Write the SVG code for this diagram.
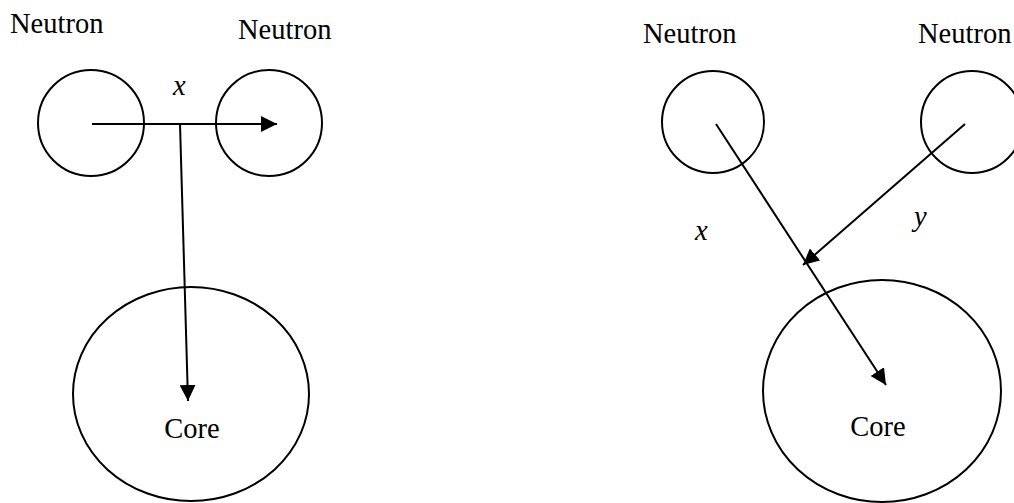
<svg xmlns="http://www.w3.org/2000/svg" width="1014" height="503" viewBox="0 0 1014 503">
<style>
.c{fill:none;stroke:#000;stroke-width:2}
.t{font-family:"Liberation Serif","Times New Roman",serif;font-size:28.5px;fill:#000}
.i{font-style:italic}
.e{fill:none;stroke:#000;stroke-width:2}
</style>
<defs>
<marker id="a" markerUnits="userSpaceOnUse" markerWidth="18" markerHeight="16" refX="16" refY="8" orient="auto">
<path d="M0,0 L16,8 L0,16 Z" fill="#000"/>
</marker>
</defs>
<rect width="1014" height="503" fill="#fff"/>
<g id="n1"><circle class="c" cx="91" cy="123" r="53"/><text class="t" x="10" y="33">Neutron</text></g>
<g id="n2"><circle class="c" cx="269" cy="123" r="53"/><text class="t" x="238" y="39">Neutron</text></g>
<g id="core1"><ellipse class="c" cx="191" cy="394" rx="118" ry="107"/><text class="t" x="192" y="438" text-anchor="middle">Core</text></g>
<g id="n3"><circle class="c" cx="713" cy="122" r="51"/><text class="t" x="643" y="43">Neutron</text></g>
<g id="n4"><circle class="c" cx="972" cy="122" r="51"/><text class="t" x="918" y="43">Neutron</text></g>
<g id="core2"><ellipse class="c" cx="882" cy="391" rx="119" ry="111"/><text class="t" x="878" y="436" text-anchor="middle">Core</text></g>
<g id="labels">
<text class="t i" x="173" y="95">x</text>
<text class="t i" x="695" y="240">x</text>
<text class="t i" x="914" y="226">y</text>
</g>
<g id="connectors">
<line class="e" x1="92" y1="124" x2="277" y2="124" marker-end="url(#a)"/>
<line class="e" x1="180" y1="124" x2="188" y2="401" marker-end="url(#a)"/>
<line class="e" x1="716" y1="124" x2="886" y2="385" marker-end="url(#a)"/>
<line class="e" x1="965" y1="124" x2="803" y2="265" marker-end="url(#a)"/>
</g>
</svg>
